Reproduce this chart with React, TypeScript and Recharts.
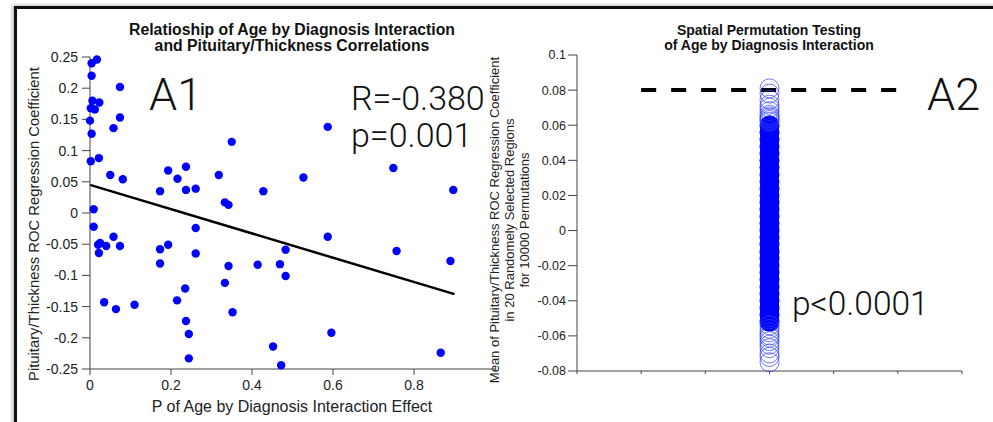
import React from "react"
import { ScatterChart, Scatter, XAxis, YAxis, ReferenceLine } from "recharts"

// A1: per-region p of age x diagnosis interaction vs pituitary/thickness coefficient
const pValues = [
  0.017, 0.004, 0.004, 0.074, 0.006, 0.023, 0.002, 0.012, 0.0, 0.074, 0.058, 0.587, 0.004,
  0.35, 0.002, 0.022, 0.05, 0.081, 0.173, 0.193, 0.216, 0.237, 0.237, 0.261, 0.318, 0.333,
  0.342, 0.428, 0.527, 0.749, 0.897, 0.009, 0.009, 0.261, 0.058, 0.025, 0.02, 0.04, 0.074,
  0.022, 0.173, 0.193, 0.261, 0.587, 0.483, 0.757, 0.173, 0.342, 0.414, 0.469, 0.89, 0.483,
  0.333, 0.235, 0.215, 0.035, 0.064, 0.11, 0.352, 0.237, 0.244, 0.596, 0.452, 0.244, 0.472,
  0.866,
]
const coefValues = [
  0.246, 0.24, 0.22, 0.202, 0.18, 0.177, 0.168, 0.166, 0.148, 0.153, 0.136, 0.138, 0.127,
  0.114, 0.083, 0.088, 0.061, 0.054, 0.035, 0.068, 0.055, 0.074, 0.037, 0.039, 0.061, 0.017,
  0.013, 0.035, 0.057, 0.072, 0.037, 0.006, -0.022, -0.024, -0.038, -0.048, -0.051, -0.053,
  -0.053, -0.064, -0.058, -0.051, -0.065, -0.038, -0.059, -0.061, -0.081, -0.085, -0.083,
  -0.082, -0.077, -0.101, -0.112, -0.121, -0.14, -0.143, -0.154, -0.147, -0.159, -0.173,
  -0.194, -0.192, -0.214, -0.233, -0.244, -0.224,
]
const fitStart = { x: 0, y: 0.045 }
const fitEnd = { x: 0.9, y: -0.13 }
const xTicksA1 = [0, 0.2, 0.4, 0.6, 0.8]
const yTicksA1 = [0.25, 0.2, 0.15, 0.1, 0.05, 0, -0.05, -0.1, -0.15, -0.2, -0.25]

// A2: permutation means (sparse tails drawn as rings, dense core as a solid stack)
const permX = 3
const permTail = [
  0.081, 0.078, 0.0745, 0.0717, 0.07, 0.068, 0.066, 0.065, 0.064, 0.063, 0.062,
  -0.054, -0.056, -0.058, -0.0597, -0.061, -0.063, -0.065, -0.067, -0.07, -0.072, -0.075,
]
const permCore = [
  0.06, 0.056, 0.052, 0.048, 0.044, 0.04, 0.036, 0.032, 0.028, 0.024, 0.02, 0.016, 0.012,
  0.008, 0.004, 0, -0.004, -0.008, -0.012, -0.016, -0.02, -0.024, -0.028, -0.032, -0.036,
  -0.04, -0.044, -0.048, -0.052,
]
const observedMean = 0.08
const yTicksA2 = [0.1, 0.08, 0.06, 0.04, 0.02, 0, -0.02, -0.04, -0.06, -0.08]
const xTicksA2 = [0, 1, 2, 3, 4, 5, 6]

const a1Data = pValues.map((p, i) => ({ x: p, y: coefValues[i] }))
const tailData = permTail.map((v) => ({ x: permX, y: v }))
const coreData = permCore.map((v) => ({ x: permX, y: v }))

const FONT = "'Liberation Sans', Arial, Helvetica, sans-serif"
const LIGHT = "Roboto, Lato, 'Open Sans', sans-serif"
const tickA1 = { fontSize: 14, fill: "#222", fontFamily: FONT }
const tickA2 = { fontSize: 12.5, fill: "#222", fontFamily: FONT }
const axisStroke = "#444"

const dot = (props: any) => <circle cx={props.cx} cy={props.cy} r={4.2} fill="#0000ff" />
const ring = (props: any) => (
  <circle cx={props.cx} cy={props.cy} r={9.5} fill="none" stroke="#3344ff" strokeOpacity={0.7} strokeWidth={1} />
)
const solid = (props: any) => <circle cx={props.cx} cy={props.cy} r={10} fill="#0000ff" />

export default function App() {
  return (
    <div style={{ position: "absolute", left: 0, top: 0, width: 993, height: 422, background: "#fff", overflow: "hidden" }}>
      <div
        style={{
          position: "absolute",
          left: 14,
          top: 6,
          width: 1000,
          height: 430,
          borderTop: "3px solid #111",
          borderLeft: "3px solid #111",
          boxShadow: "-2px -1px 3px rgba(0,0,0,0.25)",
        }}
      />
      <div style={{ position: "absolute", left: 0, top: 0 }}>
        <ScatterChart width={500} height={422} margin={{ top: 57, right: 5, bottom: 23, left: 0 }}>
          <XAxis
            type="number"
            dataKey="x"
            domain={[0, 1]}
            ticks={xTicksA1}
            tick={tickA1}
            fontSize={14}
            fontFamily={FONT}
            stroke={axisStroke}
            tickSize={6}
            tickMargin={5}
            height={30}
          />
          <YAxis
            type="number"
            dataKey="y"
            domain={[-0.25, 0.25]}
            ticks={yTicksA1}
            tick={tickA1}
            fontSize={14}
            fontFamily={FONT}
            stroke={axisStroke}
            tickSize={8}
            tickMargin={4}
            width={90}
          />
          <ReferenceLine segment={[fitStart, fitEnd]} stroke="#000" strokeWidth={2.5} />
          <Scatter data={a1Data} fill="#0000ff" shape={dot} isAnimationActive={false} />
        </ScatterChart>
      </div>
      <div style={{ position: "absolute", left: 480, top: 0 }}>
        <ScatterChart width={513} height={422} margin={{ top: 55, right: 31, bottom: 21, left: 0 }}>
          <XAxis
            type="number"
            dataKey="x"
            domain={[0, 6]}
            ticks={xTicksA2}
            tickFormatter={() => ""}
            stroke={axisStroke}
            tickSize={3}
            height={30}
          />
          <YAxis
            type="number"
            dataKey="y"
            domain={[-0.08, 0.1]}
            ticks={yTicksA2}
            tick={tickA2}
            fontSize={12.5}
            fontFamily={FONT}
            stroke={axisStroke}
            tickSize={9}
            tickMargin={2}
            width={97}
          />
          <ReferenceLine
            segment={[{ x: 1, y: observedMean }, { x: 5, y: observedMean }]}
            stroke="#000"
            strokeWidth={4}
            strokeDasharray="15 15"
          />
          <Scatter data={coreData} fill="#0000ff" shape={solid} isAnimationActive={false} />
          <Scatter data={tailData} fill="#0000ff" shape={ring} isAnimationActive={false} />
        </ScatterChart>
      </div>
      <svg width={993} height={422} style={{ position: "absolute", left: 0, top: 0, pointerEvents: "none" }}>
        <g fontFamily={FONT} fontWeight="bold" fill="#111" textAnchor="middle">
          <text x={292} y={35} fontSize={15.8}>Relatioship of Age by Diagnosis Interaction</text>
          <text x={292} y={51} fontSize={15.8}>and Pituitary/Thickness Correlations</text>
          <text x={769} y={35} fontSize={14}>Spatial Permutation Testing</text>
          <text x={769} y={50} fontSize={14}>of Age by Diagnosis Interaction</text>
        </g>
        <g fontFamily={FONT} fill="#222" textAnchor="middle">
          <text x={292} y={412} fontSize={16}>P of Age by Diagnosis Interaction Effect</text>
          <text transform="translate(39,224) rotate(-90)" fontSize={14.8}>
            Pituitary/Thickness ROC Regression Coefficient
          </text>
          <text transform="translate(499,220) rotate(-90)" fontSize={13}>
            Mean of Pituitary/Thickness ROC Regression Coefficient
          </text>
          <text transform="translate(514,220) rotate(-90)" fontSize={13}>
            in 20 Randomely Selected Regions
          </text>
          <text transform="translate(529,220) rotate(-90)" fontSize={13}>
            for 10000 Permutations
          </text>
        </g>
        <g fontFamily={LIGHT} fontWeight={300} fill="#111">
          <text x={149} y={110} fontSize={45}>A1</text>
          <text x={351} y={110} fontSize={34}>R=-0.380</text>
          <text x={351} y={147} fontSize={34}>p=0.001</text>
          <text x={927} y={110} fontSize={45}>A2</text>
          <text x={792} y={315} fontSize={33.5}>p&lt;0.0001</text>
        </g>
      </svg>
    </div>
  )
}
